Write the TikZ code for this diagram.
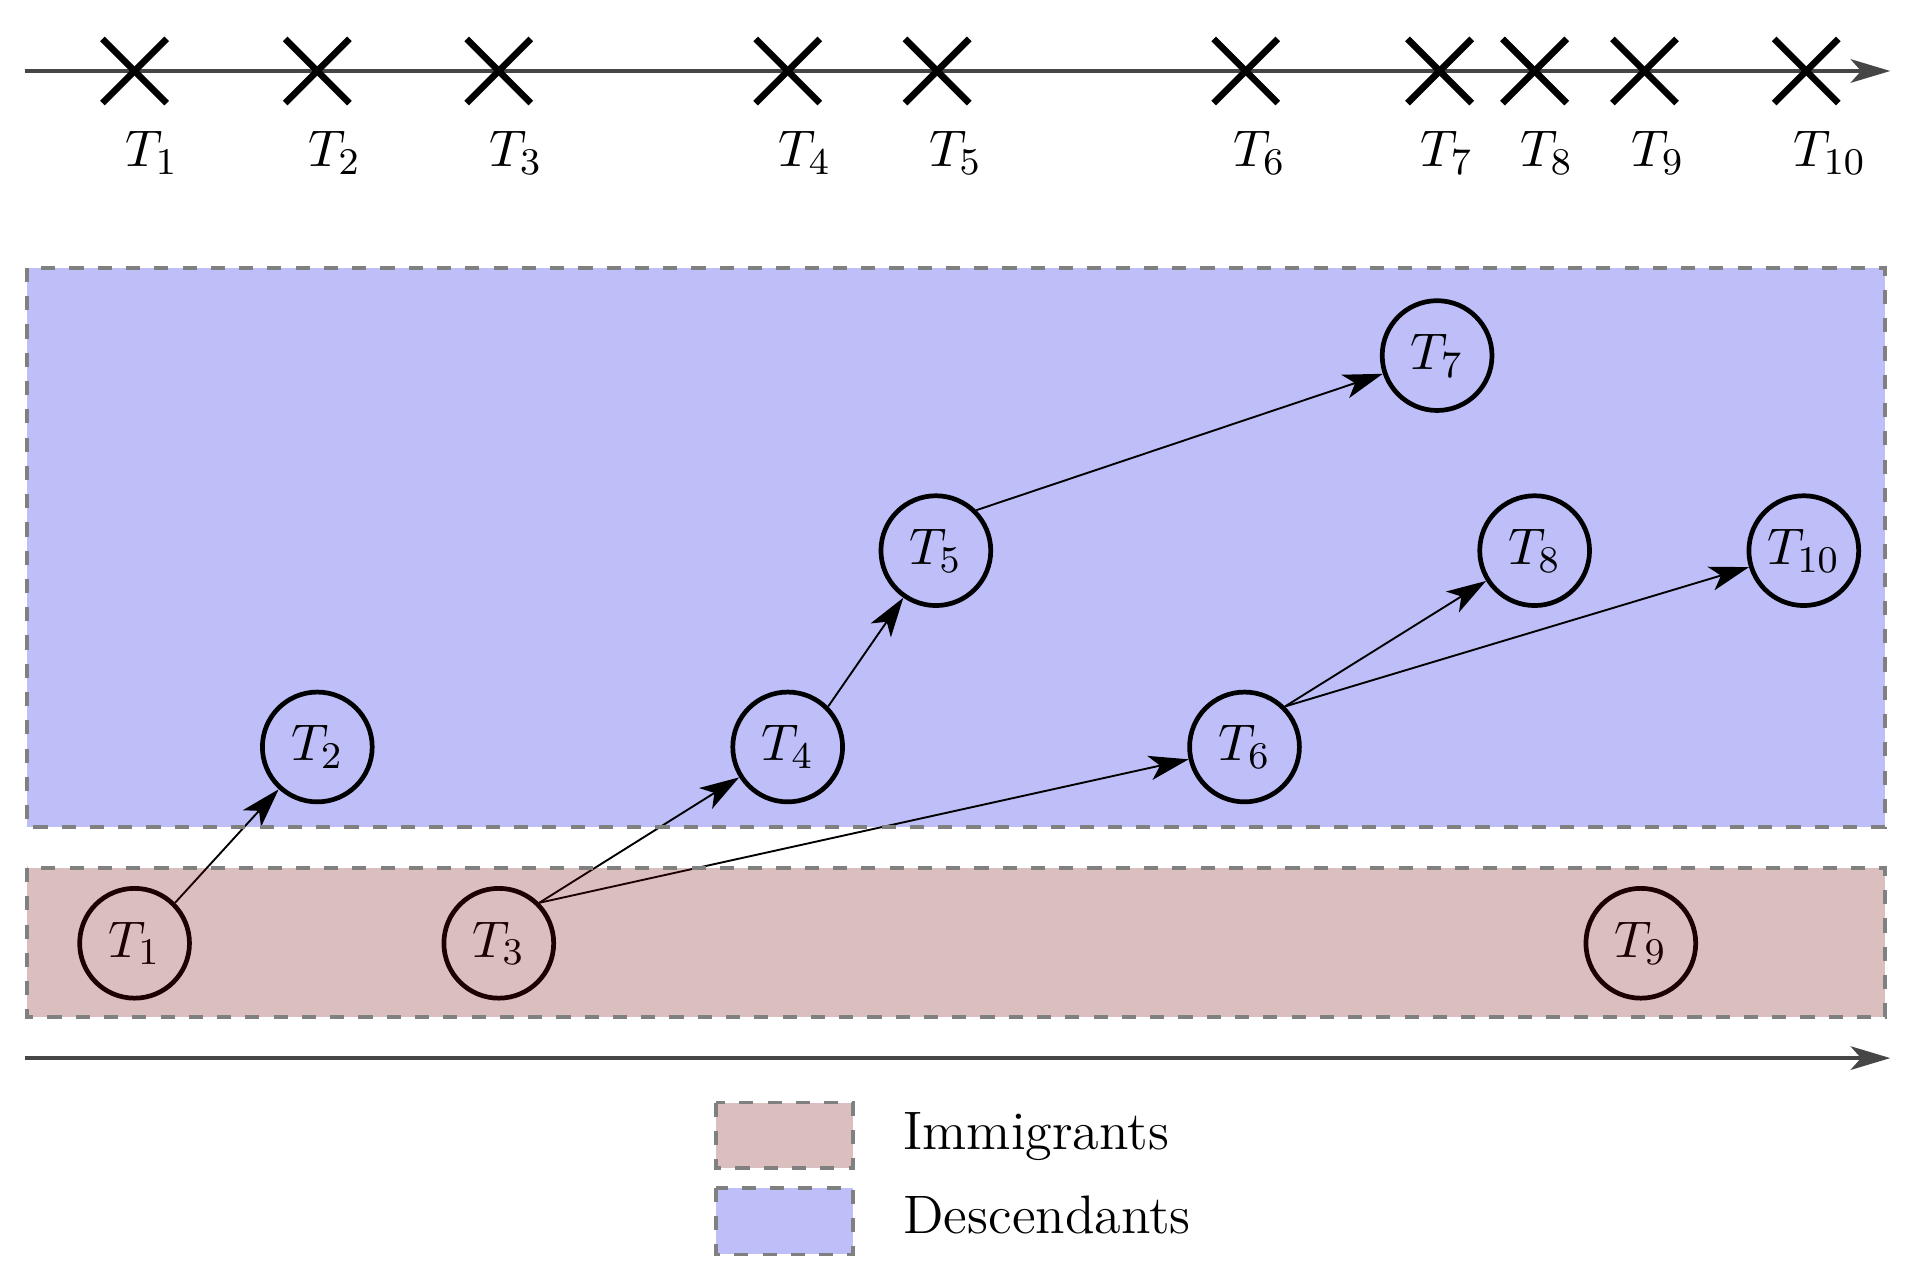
\documentclass[tikz,border=0pt,11pt]{standalone}
\usetikzlibrary{arrows.meta}
\definecolor{descfill}{RGB}{190,190,248}
\definecolor{immtint}{RGB}{114,0,0}
\definecolor{axisgray}{RGB}{70,70,70}
\definecolor{dashgray}{RGB}{128,128,128}
\begin{document}
\begin{tikzpicture}[x=0.262pt,y=-0.262pt,
  tnode/.style={circle,draw=black,line width=1pt,minimum size=23.3pt,inner sep=0pt},
  link/.style={line width=0.4pt,-{Stealth[length=8.4pt,width=5.2pt,inset=2.2pt]}},
  timeaxis/.style={draw=axisgray,line width=0.7pt,-{Stealth[length=8.4pt,width=5pt,inset=2.2pt]}},
  crossline/.style={line width=1.4pt},
  region/.style={draw=dashgray,line width=0.8pt,dashed},
  tlabel/.style={anchor=base west,inner sep=0pt},
  legtext/.style={anchor=base west,inner sep=0pt,font=\fontsize{11.5}{14}\selectfont}]
\useasboundingbox (0,0) rectangle (1560,1038.4);

% descendants region (behind)
\fill[descfill] (22,217) rectangle (1527,670);

% top time axis
\coordinate (ta0) at (20,57.5);
\coordinate (ta1) at (1531,57.5);
\draw[timeaxis] (ta0) -- (ta1);
\foreach \x/\i/\o in {109/1/8,257/2/8,404/3/8,638/4/8,759/5/7,1009/6/11,1166/7/16,1243/8/12,1332/9/11,1463/10/11}{
  \draw[crossline] (\x-26,31.5) -- (\x+26,83.5);
  \draw[crossline] (\x-26,83.5) -- (\x+26,31.5);
  \node[tlabel] (lab\i) at (\x-\o,135) {$T_{\i}$};
}

% event nodes
\node[tnode] (n1) at (109,764) {$T_1$};
\node[tnode] (n3) at (404,764) {$T_3$};
\node[tnode] (n9) at (1329,764) {$T_9$};
\node[tnode] (n2) at (257,605) {$T_2$};
\node[tnode] (n4) at (638,605) {$T_4$};
\node[tnode] (n6) at (1008,605) {$T_6$};
\node[tnode] (n5) at (758,446) {$T_5$};
\node[tnode] (n8) at (1243,446) {$T_8$};
\node[tnode] (n10) at (1461,446) {$T_{10}$};
\node[tnode] (n7) at (1164,288) {$T_7$};

% links
\draw[link] (n1.north east) -- (n2);
\draw[link] (n3.north east) -- (n4);
\draw[link] (n3.north east) -- (n6);
\draw[link] (n4.north east) -- (n5);
\draw[link] (n5.north east) -- (n7);
\draw[link] (n6.north east) -- (n8);
\draw[link] (n6.north east) -- (n10);

% immigrants region (tinted overlay)
\fill[immtint,fill opacity=0.255] (22,703) rectangle (1527,824);
\draw[region] (22,217) rectangle (1527,670);
\draw[region] (22,703) rectangle (1527,824);

% bottom axis
\coordinate (ba0) at (20,857);
\coordinate (ba1) at (1531,857);
\draw[timeaxis] (ba0) -- (ba1);

% legend
\fill[immtint,fill opacity=0.255] (580,893) rectangle (691,946);
\draw[region] (580,893) rectangle (691,946);
\fill[descfill] (580,962) rectangle (691,1016);
\draw[region] (580,962) rectangle (691,1016);
\node[legtext] (legimm) at (731,931) {Immigrants};
\node[legtext] (legdesc) at (731,999) {Descendants};
\end{tikzpicture}
\end{document}
